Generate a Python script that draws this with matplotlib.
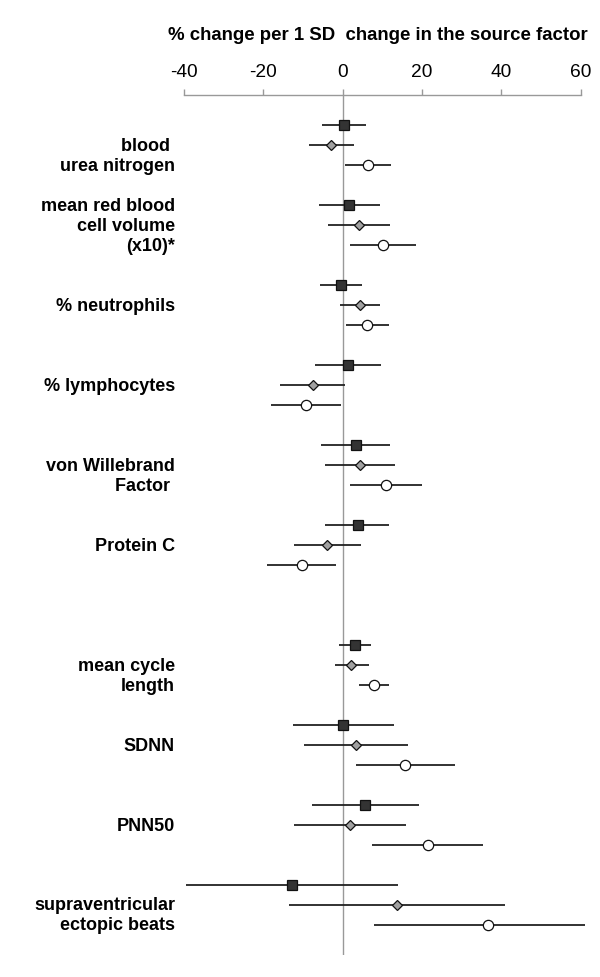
import numpy as np
import matplotlib
matplotlib.use("Agg")
import matplotlib.pyplot as plt
import matplotlib.transforms as mtransforms

plt.rcParams['font.family'] = ['Liberation Sans', 'DejaVu Sans']
plt.rcParams['axes.unicode_minus'] = False

# groups (top to bottom); each has three estimates (square, diamond, circle)
group_pos = [0, 4, 8, 12, 16, 20, 26, 30, 34, 38]

# label lines for each group: (text, row offset inside group)
group_labels = [
    [("blood ", 1), ("urea nitrogen", 2)],
    [("mean red blood", 0), ("cell volume", 1), ("(x10)*", 2)],
    [("% neutrophils", 1)],
    [("% lymphocytes", 1)],
    [("von Willebrand", 1), ("Factor ", 2)],
    [("Protein C", 1)],
    [("mean cycle", 1), ("length", 2)],
    [("SDNN", 1)],
    [("PNN50", 1)],
    [("supraventricular", 1), ("ectopic beats", 2)],
]

sq_est = [0.4, 1.7, -0.5, 1.35, 3.3, 3.8, 3.0, 0.2, 5.7, -12.7]
sq_lo = [-5.2, -5.9, -5.6, -7.0, -5.4, -4.4, -1.0, -12.6, -7.8, -39.5]
sq_hi = [6.0, 9.4, 4.8, 9.7, 11.9, 11.8, 7.2, 12.95, 19.3, 14.0]

di_est = [-2.85, 4.0, 4.3, -7.55, 4.3, -3.9, 2.2, 3.45, 1.85, 13.6]
di_lo = [-8.4, -3.8, -0.75, -15.7, -4.5, -12.2, -1.9, -9.7, -12.3, -13.6]
di_hi = [2.9, 11.9, 9.4, 0.5, 13.3, 4.5, 6.6, 16.5, 16.0, 40.8]

ci_est = [6.4, 10.1, 6.2, -9.2, 10.9, -10.3, 7.9, 15.8, 21.4, 36.6]
ci_lo = [0.5, 1.9, 0.8, -18.1, 1.8, -19.0, 4.0, 3.4, 7.5, 7.8]
ci_hi = [12.2, 18.5, 11.8, -0.3, 20.1, -1.8, 11.8, 28.2, 35.4, 61.2]

xticks = [-40, -20, 0, 20, 40, 60]

fig = plt.figure(figsize=(6, 9.78), dpi=100)
ax = fig.add_axes([0.3067, 0.0225, 0.6611, 0.8793])

series = [
    (sq_est, sq_lo, sq_hi, 0, 's', 7.0, '#333333'),
    (di_est, di_lo, di_hi, 1, 'D', 5.2, '#a0a0a0'),
    (ci_est, ci_lo, ci_hi, 2, 'o', 7.4, 'white'),
]
for est, lo, hi, off, mk, ms, fc in series:
    est = np.array(est)
    y = np.array(group_pos) + off
    err = [est - np.array(lo), np.array(hi) - est]
    ax.errorbar(est, y, xerr=err, fmt=mk, ms=ms, mfc=fc, mec='#111111',
                mew=0.9, ecolor='#222222', elinewidth=1.3, capsize=0,
                clip_on=False, zorder=3)

ax.axvline(0, color='#999999', lw=1, zorder=1)

ax.set_xlim(-40, 60)
ax.set_ylim(41.5, -1.5)
ax.xaxis.tick_top()
ax.set_xticks(xticks)
ax.tick_params(axis='x', direction='out', length=4.5, width=1, color='#999999',
               labelsize=13.8, pad=6)
ax.set_yticks([])
for s in ['left', 'right', 'bottom']:
    ax.spines[s].set_visible(False)
ax.spines['top'].set_color('#999999')
ax.spines['top'].set_linewidth(1)

tr = mtransforms.blended_transform_factory(fig.transFigure, ax.transData)
for g, lines in zip(group_pos, group_labels):
    for txt, off in lines:
        ax.text(0.2917, g + off, txt, transform=tr, ha='right', va='center',
                fontsize=13, fontweight='bold')

fig.text(0.63, 1 - 35 / 978, "% change per 1 SD  change in the source factor",
         ha='center', va='center', fontsize=13.4, fontweight='bold')

fig.savefig("out.png", dpi=100)
